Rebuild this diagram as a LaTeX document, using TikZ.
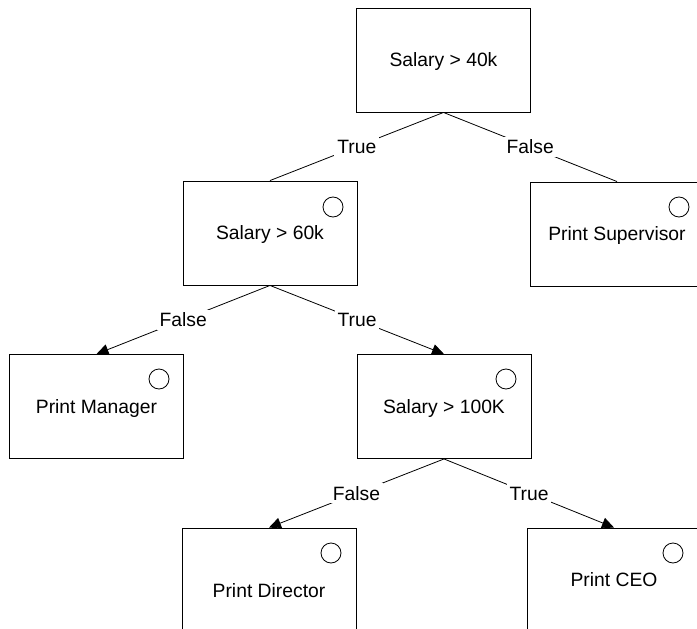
\documentclass[tikz,border=0pt]{standalone}
\usepackage{fontspec}
\setmainfont{Liberation Sans}
\usetikzlibrary{arrows.meta}
\begin{document}
\begin{tikzpicture}[x=1pt,y=-1pt,
  every node/.style={font=\fontsize{19.3}{23}\selectfont},
  box/.style={draw, line width=0.9pt, minimum width=174pt, minimum height=104pt,
    inner sep=0pt, text height=13.8pt, text depth=0pt},
  marker/.style={draw, circle, line width=0.8pt, minimum size=20pt, inner sep=0pt},
  link/.style={line width=0.8pt},
  arrowlink/.style={link, -{Triangle[length=12pt,width=11pt]}},
  cond/.style={fill=white, inner xsep=3pt, inner ysep=3pt, text height=13.8pt, text depth=0pt}
]
\useasboundingbox (0,0) rectangle (697,629);
\clip (0,0) rectangle (697,629);

% decision and action boxes
\node[box] (b1) at (443.5,60) {Salary > 40k};
\node[box] (b2) at (270,233) {Salary > 60k};
\node[box] (b3) at (617,234) {Print Supervisor};
\node[box] (b4) at (96.5,406.5) {Print Manager};
\node[box] (b5) at (444,406.5) {Salary > 100K};
\node[box] (b6) at (269,580) {\raisebox{-10.5pt}[\height][\depth]{Print Director}};
\node[box] (b7) at (614,580) {Print CEO};

% small circles in the upper right corners
\node[marker] (m2) at (333,207) {};
\node[marker] (m3) at (679,207) {};
\node[marker] (m4) at (159,379) {};
\node[marker] (m5) at (506,379) {};
\node[marker] (m6) at (331,553) {};
\node[marker] (m7) at (673,553) {};

% branches
\draw[link] (b1.south) -- node[cond] (l1) {True} (b2.north);
\draw[link] (b1.south) -- node[cond] (l2) {False} (b3.north);
\draw[arrowlink] (b2.south) -- node[cond] (l3) {False} (b4.north);
\draw[arrowlink] (b2.south) -- node[cond] (l4) {True} (b5.north);
\draw[arrowlink] (b5.south) -- node[cond] (l5) {False} (b6.north);
\draw[arrowlink] (b5.south) -- node[cond] (l6) {True} (b7.north);
\end{tikzpicture}
\end{document}
